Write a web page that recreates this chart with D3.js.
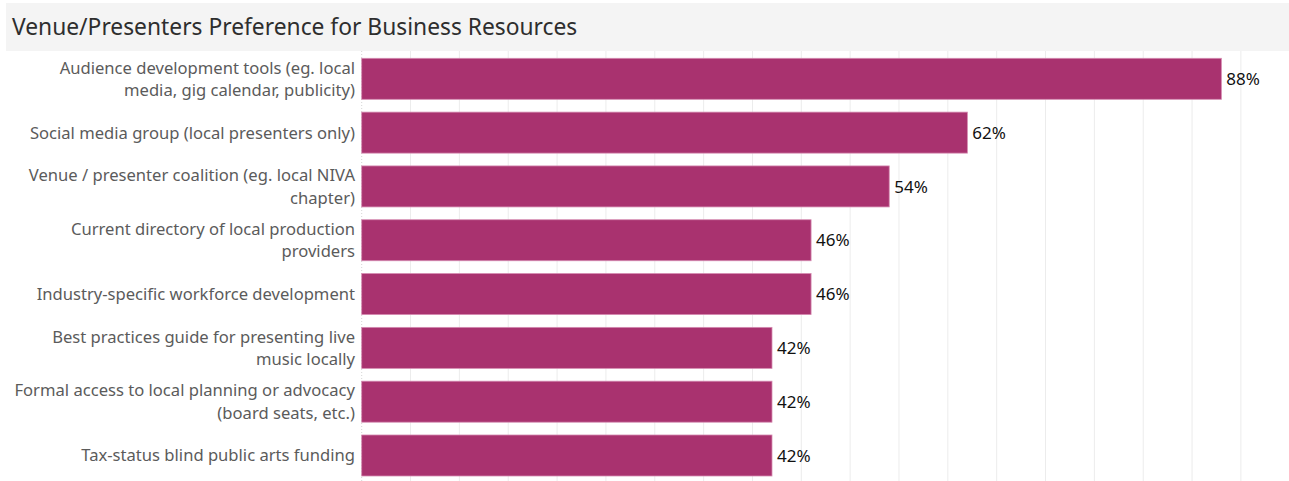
<!DOCTYPE html>
<html>
<head>
<meta charset="utf-8">
<script src="https://cdn.jsdelivr.net/npm/d3@7"></script>
<style>
  html, body { margin: 0; padding: 0; background: #fff; }
  svg { display: block; }
</style>
</head>
<body>
<svg id="chart" width="1289" height="481"></svg>
<script>
// Survey responses: share of venues/presenters who want each business resource
const categories = [
  ["Audience development tools (eg. local", "media, gig calendar, publicity)"],
  ["Social media group (local presenters only)"],
  ["Venue / presenter coalition (eg. local NIVA", "chapter)"],
  ["Current directory of local production", "providers"],
  ["Industry-specific workforce development"],
  ["Best practices guide for presenting live", "music locally"],
  ["Formal access to local planning or advocacy", "(board seats, etc.)"],
  ["Tax-status blind public arts funding"]
];
const values = [88, 62, 54, 46, 46, 42, 42, 42];
const gridTicks = d3.range(0, 100, 5);
const titleText = "Venue/Presenters Preference for Business Resources";

const W = 1289, H = 481;
const svg = d3.select("#chart");
const FONT = "'Noto Sans', 'Open Sans', sans-serif";

// title band
svg.append("rect")
  .attr("x", 6).attr("y", 3).attr("width", W - 6).attr("height", 48)
  .attr("fill", "#f4f4f4");
svg.append("text")
  .attr("x", 12).attr("y", 34.5)
  .attr("font-family", FONT).attr("font-size", 22.8)
  .attr("fill", "#2e2e2e")
  .text(titleText);

const x = d3.scaleLinear().domain([0, 90]).range([361.7, 1240.9]);
const idx = d3.range(categories.length);
const y = d3.scaleBand().domain(idx).range([51.9, 482.4]).paddingInner(0.238).paddingOuter(0.119);

// vertical gridlines
svg.append("g").selectAll("line")
  .data(gridTicks.filter(t => t > 0 && x(t) < W))
  .join("line")
  .attr("x1", d => x(d)).attr("x2", d => x(d))
  .attr("y1", 51).attr("y2", H)
  .attr("stroke", "#ececec").attr("stroke-width", 1);

// zero line
svg.append("line")
  .attr("x1", x(0)).attr("x2", x(0)).attr("y1", 51).attr("y2", H)
  .attr("stroke", "#d6d6d6").attr("stroke-dasharray", "1,2");

// bars
svg.append("g").selectAll("rect")
  .data(idx)
  .join("rect")
  .attr("x", x(0))
  .attr("y", i => y(i))
  .attr("width", i => x(values[i]) - x(0))
  .attr("height", y.bandwidth())
  .attr("fill", "#a9326f")
  .attr("stroke", "#d58bb1").attr("stroke-width", 0.8);

// value labels
svg.append("g").selectAll("text")
  .data(idx)
  .join("text")
  .attr("x", i => x(values[i]) + 5)
  .attr("y", i => y(i) + y.bandwidth() / 2)
  .attr("dy", "0.36em")
  .attr("font-family", FONT).attr("font-size", 17)
  .attr("fill", "#111")
  .text(i => values[i] + "%");

// category labels, right-aligned against the axis
const lineH = 22.5;
const lab = svg.append("g").selectAll("text")
  .data(idx)
  .join("text")
  .attr("text-anchor", "end")
  .attr("font-family", FONT).attr("font-size", 16.6)
  .attr("fill", "#5b5b5b");
lab.each(function(i) {
  const lines = categories[i];
  const c = y(i) + y.bandwidth() / 2;
  const t = d3.select(this);
  lines.forEach((s, k) => {
    t.append("tspan")
      .attr("x", 355)
      .attr("y", c + (k - (lines.length - 1) / 2) * lineH)
      .attr("dy", "0.36em")
      .text(s);
  });
});
</script>
</body>
</html>
